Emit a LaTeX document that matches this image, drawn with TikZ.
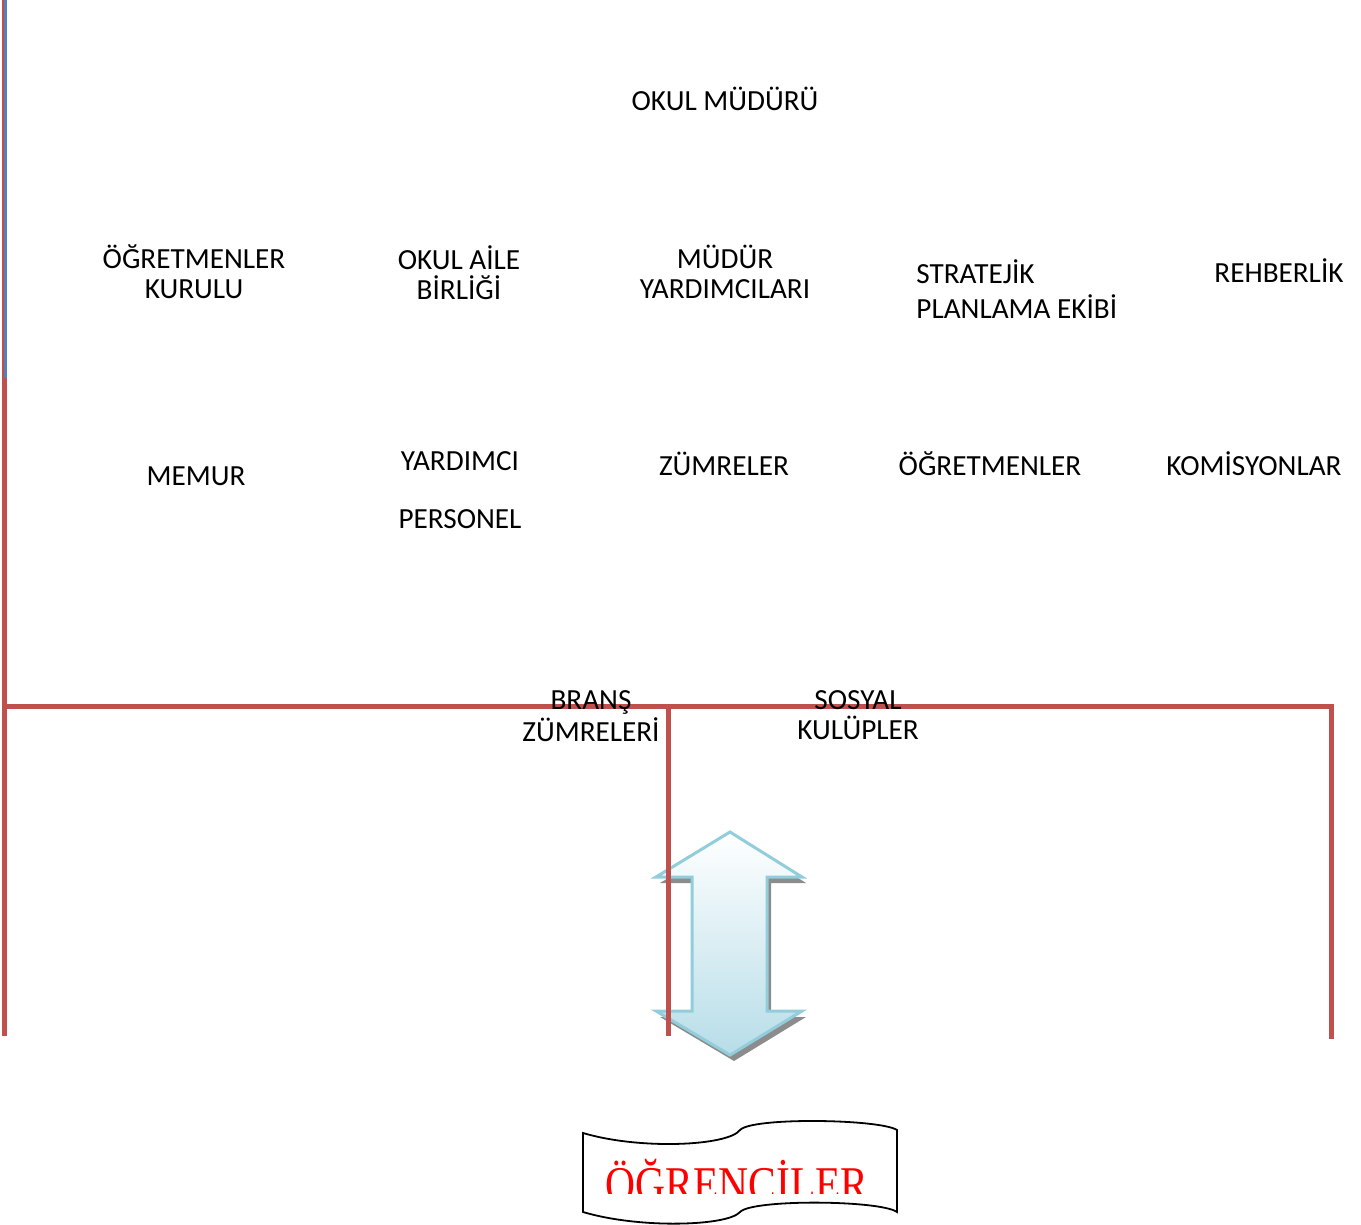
\documentclass[tikz,border=0pt]{standalone}
\usepackage{fontspec}
\setmainfont{Carlito}
\newfontfamily\bannerfont{Liberation Serif}
\usetikzlibrary{positioning}
\definecolor{orgred}{HTML}{C0504D}
\definecolor{orgblue}{HTML}{4F81BD}
\definecolor{arrowline}{HTML}{92CDDC}
\definecolor{arrowfill}{HTML}{B7DDE8}
\tikzset{
    orgbox/.style={font=\fontsize{14.6}{15}\selectfont, align=center, inner sep=0pt},
    orgline/.style={draw=orgred, line width=2.5pt},
    bigarrow/.style={draw=arrowline, line width=1.5pt, top color=white, bottom color=arrowfill, line join=miter},
    banner/.style={draw=black, line width=0.9pt, fill=white}
}

\begin{document}
\begin{tikzpicture}[x=0.5pt, y=-0.5pt]
    \useasboundingbox (0,0) rectangle (1361,1225);
    % Frame points
    \coordinate (lt) at (4.7,0);
    \coordinate (lb) at (4.7,1036);
    \coordinate (hl) at (4.7,706);
    \coordinate (hm) at (668,706);
    \coordinate (hr) at (1331,706);
    \coordinate (mb) at (668,1036);
    \coordinate (rb) at (1331,1036);

    % Double arrow with its shadow
    \fill [gray!90, shift={(4,6)}] (730,832) -- (802,877) -- (767,877) -- (767,1011) -- (802,1011)
        -- (730,1055) -- (656,1011) -- (692,1011) -- (692,877) -- (656,877) -- cycle;
    \draw [bigarrow] (730,832) -- (802,877) -- (767,877) -- (767,1011) -- (802,1011)
        -- (730,1055) -- (656,1011) -- (692,1011) -- (692,877) -- (656,877) -- cycle;

    % Lines
    \draw [orgline] (lt) -- (lb);
    \draw [draw=orgblue, line width=1.2pt] (5.4,0) -- (5.4,378);
    \draw [orgline, line cap=rect] (hl) -- (hr) -- (rb);
    \draw [orgline] (hm) -- (mb);

    % Place nodes
    \node [orgbox] (mudur) at (725,99) {OKUL MÜDÜRÜ};
    \node [orgbox] (kurul) at (194,272) {ÖĞRETMENLER\\KURULU};
    \node [orgbox] (aile) at (459,273) {OKUL AİLE\\BİRLİĞİ};
    \node [orgbox] (yardimci) at (725,272) {MÜDÜR\\YARDIMCILARI};
    \node [orgbox, align=left, anchor=west, font=\fontsize{14.6}{17.5}\selectfont] (strateji) at (916,289) {STRATEJİK\\PLANLAMA EKİBİ};
    \node [orgbox] (rehber) at (1279,271) {REHBERLİK};
    \node [orgbox] (memur) at (196,476) {MEMUR};
    \node [orgbox, font=\fontsize{14.6}{29}\selectfont] (personel) at (460,490) {YARDIMCI\\PERSONEL};
    \node [orgbox] (zumre) at (724,464) {ZÜMRELER};
    \node [orgbox] (ogretmen) at (990,464) {ÖĞRETMENLER};
    \node [orgbox] (komisyon) at (1254,464) {KOMİSYONLAR};
    \node [orgbox, font=\fontsize{14.6}{16}\selectfont] (brans) at (591,716) {BRANŞ\\ZÜMRELERİ};
    \node [orgbox] (sosyal) at (858,715) {SOSYAL\\KULÜPLER};

    % Students banner
    \draw [banner] (583,1133) .. controls (640,1150) and (728,1146) .. (740,1130)
        .. controls (752,1117) and (880,1119) .. (897,1130) -- (897,1212)
        .. controls (880,1200) and (752,1199) .. (740,1212)
        .. controls (728,1226) and (640,1229) .. (583,1212) -- cycle;
    \begin{scope}
        \clip (590,1145) rectangle (890,1193);
        \node [inner sep=0pt, anchor=base, text=red, font=\bannerfont\fontsize{25}{27}\selectfont] (ogrenci) at (737,1201) {\scalebox{0.83}[1]{ÖĞRENCİLER}};
    \end{scope}
\end{tikzpicture}
\end{document}
